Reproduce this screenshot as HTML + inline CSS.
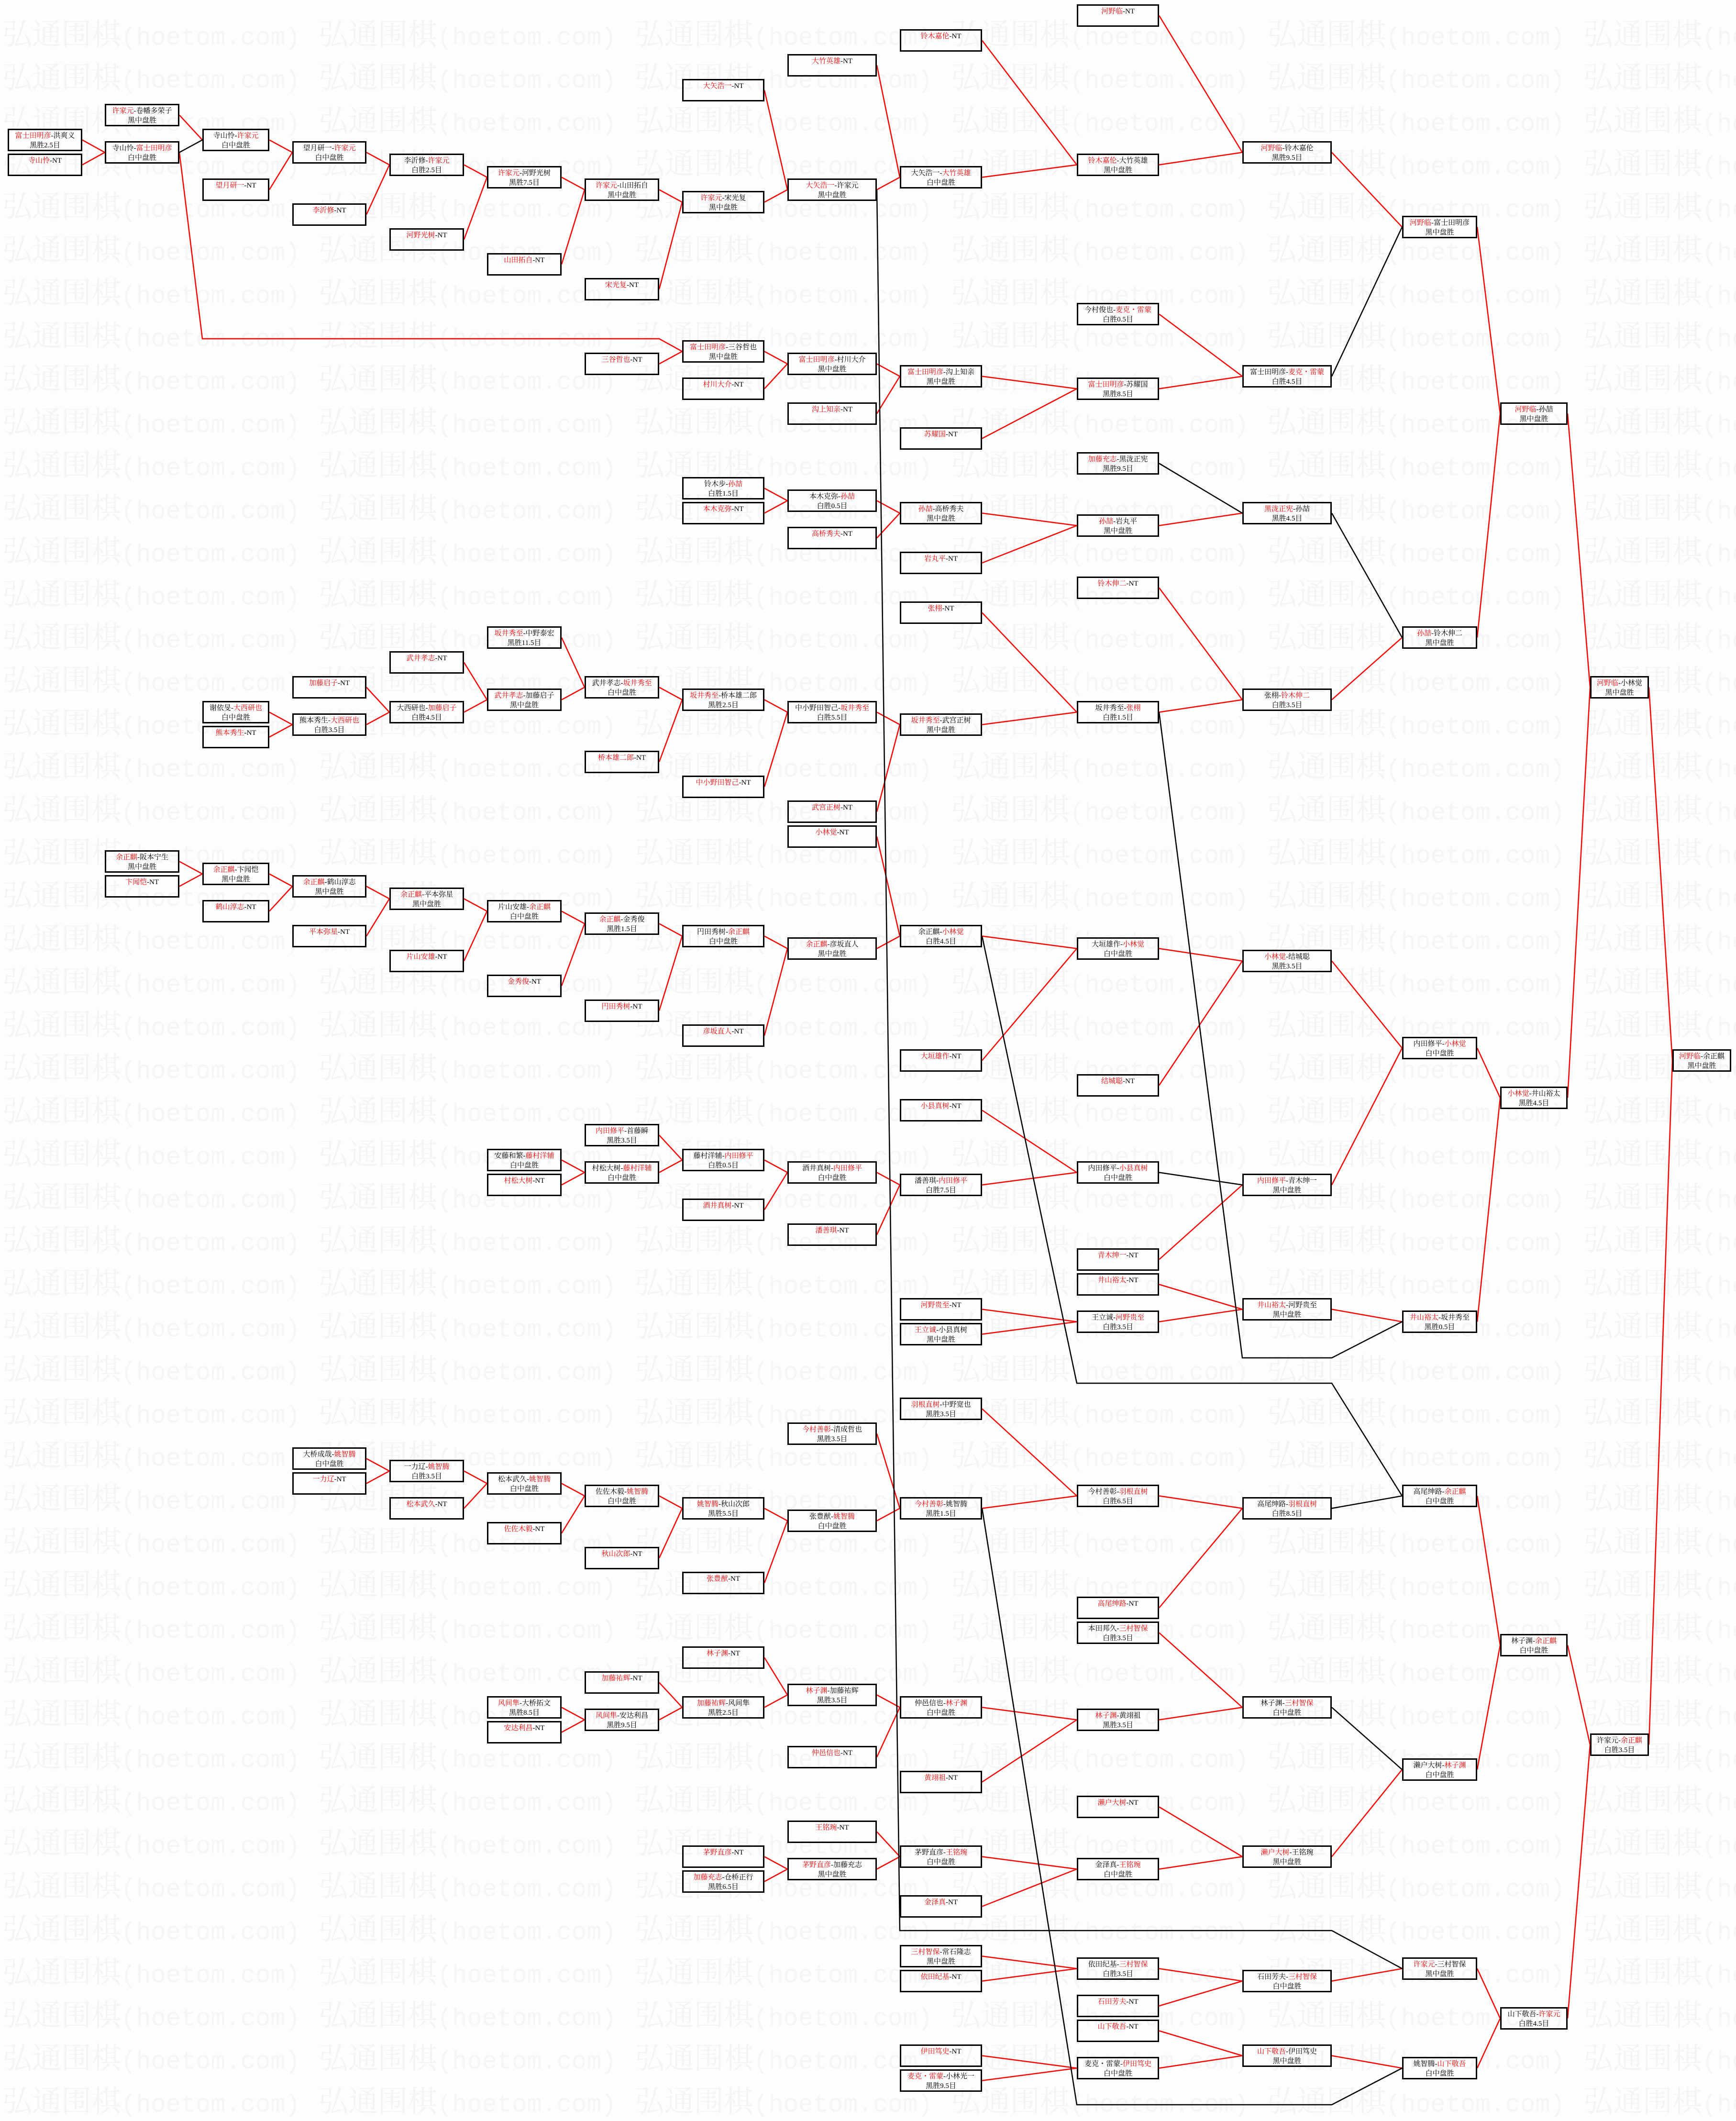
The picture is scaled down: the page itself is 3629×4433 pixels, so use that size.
<!DOCTYPE html>
<html><head><meta charset="utf-8">
<style>
html,body{margin:0;padding:0;background:#fdfdfd}
#w{position:relative;width:3629px;height:4433px;overflow:hidden;background:#fdfdfd}
svg{position:absolute;left:0;top:0}
.wm text{font-family:"Noto Serif CJK SC","Liberation Serif",serif;font-size:62px;fill:#f4f4f4}
.wm .l{font-family:"Liberation Mono",monospace;font-size:52px;fill:#f5f5f5}
.b{position:absolute;height:47px;box-sizing:border-box;border:3px solid #000;text-align:center;font:15px/20px "Liberation Serif","Noto Serif CJK SC",serif;padding-top:2px;white-space:nowrap;color:#000;overflow:visible}
.b i{font-style:normal;color:#f00}
.c1{left:16px;width:156px}.c2{left:219px;width:156px}.c3{left:423px;width:140px}.c4{left:611px;width:155px}
.c5{left:814px;width:156px}.c6{left:1018px;width:156px}.c7{left:1222px;width:156px}.c8{left:1426px;width:172px}
.c9{left:1646px;width:187px}.c10{left:1881px;width:172px}.c11{left:2251px;width:172px}.c12{left:2597px;width:187px}
.c13{left:2931px;width:157px}.c14{left:3136px;width:141px}.c15{left:3324px;width:123px}.c16{left:3496px;width:123px}
</style></head><body><div id="w">
<svg class="wm" width="3629" height="4433">
<text y="93"><tspan x="5">弘通围棋</tspan><tspan class="l">(hoetom.com)</tspan><tspan x="666">弘通围棋</tspan><tspan class="l">(hoetom.com)</tspan><tspan x="1327">弘通围棋</tspan><tspan class="l">(hoetom.com)</tspan><tspan x="1988">弘通围棋</tspan><tspan class="l">(hoetom.com)</tspan><tspan x="2649">弘通围棋</tspan><tspan class="l">(hoetom.com)</tspan><tspan x="3310">弘通围棋</tspan><tspan class="l">(hoetom.com)</tspan></text>
<text y="183"><tspan x="5">弘通围棋</tspan><tspan class="l">(hoetom.com)</tspan><tspan x="666">弘通围棋</tspan><tspan class="l">(hoetom.com)</tspan><tspan x="1327">弘通围棋</tspan><tspan class="l">(hoetom.com)</tspan><tspan x="1988">弘通围棋</tspan><tspan class="l">(hoetom.com)</tspan><tspan x="2649">弘通围棋</tspan><tspan class="l">(hoetom.com)</tspan><tspan x="3310">弘通围棋</tspan><tspan class="l">(hoetom.com)</tspan></text>
<text y="273"><tspan x="5">弘通围棋</tspan><tspan class="l">(hoetom.com)</tspan><tspan x="666">弘通围棋</tspan><tspan class="l">(hoetom.com)</tspan><tspan x="1327">弘通围棋</tspan><tspan class="l">(hoetom.com)</tspan><tspan x="1988">弘通围棋</tspan><tspan class="l">(hoetom.com)</tspan><tspan x="2649">弘通围棋</tspan><tspan class="l">(hoetom.com)</tspan><tspan x="3310">弘通围棋</tspan><tspan class="l">(hoetom.com)</tspan></text>
<text y="363"><tspan x="5">弘通围棋</tspan><tspan class="l">(hoetom.com)</tspan><tspan x="666">弘通围棋</tspan><tspan class="l">(hoetom.com)</tspan><tspan x="1327">弘通围棋</tspan><tspan class="l">(hoetom.com)</tspan><tspan x="1988">弘通围棋</tspan><tspan class="l">(hoetom.com)</tspan><tspan x="2649">弘通围棋</tspan><tspan class="l">(hoetom.com)</tspan><tspan x="3310">弘通围棋</tspan><tspan class="l">(hoetom.com)</tspan></text>
<text y="453"><tspan x="5">弘通围棋</tspan><tspan class="l">(hoetom.com)</tspan><tspan x="666">弘通围棋</tspan><tspan class="l">(hoetom.com)</tspan><tspan x="1327">弘通围棋</tspan><tspan class="l">(hoetom.com)</tspan><tspan x="1988">弘通围棋</tspan><tspan class="l">(hoetom.com)</tspan><tspan x="2649">弘通围棋</tspan><tspan class="l">(hoetom.com)</tspan><tspan x="3310">弘通围棋</tspan><tspan class="l">(hoetom.com)</tspan></text>
<text y="543"><tspan x="5">弘通围棋</tspan><tspan class="l">(hoetom.com)</tspan><tspan x="666">弘通围棋</tspan><tspan class="l">(hoetom.com)</tspan><tspan x="1327">弘通围棋</tspan><tspan class="l">(hoetom.com)</tspan><tspan x="1988">弘通围棋</tspan><tspan class="l">(hoetom.com)</tspan><tspan x="2649">弘通围棋</tspan><tspan class="l">(hoetom.com)</tspan><tspan x="3310">弘通围棋</tspan><tspan class="l">(hoetom.com)</tspan></text>
<text y="633"><tspan x="5">弘通围棋</tspan><tspan class="l">(hoetom.com)</tspan><tspan x="666">弘通围棋</tspan><tspan class="l">(hoetom.com)</tspan><tspan x="1327">弘通围棋</tspan><tspan class="l">(hoetom.com)</tspan><tspan x="1988">弘通围棋</tspan><tspan class="l">(hoetom.com)</tspan><tspan x="2649">弘通围棋</tspan><tspan class="l">(hoetom.com)</tspan><tspan x="3310">弘通围棋</tspan><tspan class="l">(hoetom.com)</tspan></text>
<text y="723"><tspan x="5">弘通围棋</tspan><tspan class="l">(hoetom.com)</tspan><tspan x="666">弘通围棋</tspan><tspan class="l">(hoetom.com)</tspan><tspan x="1327">弘通围棋</tspan><tspan class="l">(hoetom.com)</tspan><tspan x="1988">弘通围棋</tspan><tspan class="l">(hoetom.com)</tspan><tspan x="2649">弘通围棋</tspan><tspan class="l">(hoetom.com)</tspan><tspan x="3310">弘通围棋</tspan><tspan class="l">(hoetom.com)</tspan></text>
<text y="813"><tspan x="5">弘通围棋</tspan><tspan class="l">(hoetom.com)</tspan><tspan x="666">弘通围棋</tspan><tspan class="l">(hoetom.com)</tspan><tspan x="1327">弘通围棋</tspan><tspan class="l">(hoetom.com)</tspan><tspan x="1988">弘通围棋</tspan><tspan class="l">(hoetom.com)</tspan><tspan x="2649">弘通围棋</tspan><tspan class="l">(hoetom.com)</tspan><tspan x="3310">弘通围棋</tspan><tspan class="l">(hoetom.com)</tspan></text>
<text y="903"><tspan x="5">弘通围棋</tspan><tspan class="l">(hoetom.com)</tspan><tspan x="666">弘通围棋</tspan><tspan class="l">(hoetom.com)</tspan><tspan x="1327">弘通围棋</tspan><tspan class="l">(hoetom.com)</tspan><tspan x="1988">弘通围棋</tspan><tspan class="l">(hoetom.com)</tspan><tspan x="2649">弘通围棋</tspan><tspan class="l">(hoetom.com)</tspan><tspan x="3310">弘通围棋</tspan><tspan class="l">(hoetom.com)</tspan></text>
<text y="993"><tspan x="5">弘通围棋</tspan><tspan class="l">(hoetom.com)</tspan><tspan x="666">弘通围棋</tspan><tspan class="l">(hoetom.com)</tspan><tspan x="1327">弘通围棋</tspan><tspan class="l">(hoetom.com)</tspan><tspan x="1988">弘通围棋</tspan><tspan class="l">(hoetom.com)</tspan><tspan x="2649">弘通围棋</tspan><tspan class="l">(hoetom.com)</tspan><tspan x="3310">弘通围棋</tspan><tspan class="l">(hoetom.com)</tspan></text>
<text y="1083"><tspan x="5">弘通围棋</tspan><tspan class="l">(hoetom.com)</tspan><tspan x="666">弘通围棋</tspan><tspan class="l">(hoetom.com)</tspan><tspan x="1327">弘通围棋</tspan><tspan class="l">(hoetom.com)</tspan><tspan x="1988">弘通围棋</tspan><tspan class="l">(hoetom.com)</tspan><tspan x="2649">弘通围棋</tspan><tspan class="l">(hoetom.com)</tspan><tspan x="3310">弘通围棋</tspan><tspan class="l">(hoetom.com)</tspan></text>
<text y="1173"><tspan x="5">弘通围棋</tspan><tspan class="l">(hoetom.com)</tspan><tspan x="666">弘通围棋</tspan><tspan class="l">(hoetom.com)</tspan><tspan x="1327">弘通围棋</tspan><tspan class="l">(hoetom.com)</tspan><tspan x="1988">弘通围棋</tspan><tspan class="l">(hoetom.com)</tspan><tspan x="2649">弘通围棋</tspan><tspan class="l">(hoetom.com)</tspan><tspan x="3310">弘通围棋</tspan><tspan class="l">(hoetom.com)</tspan></text>
<text y="1263"><tspan x="5">弘通围棋</tspan><tspan class="l">(hoetom.com)</tspan><tspan x="666">弘通围棋</tspan><tspan class="l">(hoetom.com)</tspan><tspan x="1327">弘通围棋</tspan><tspan class="l">(hoetom.com)</tspan><tspan x="1988">弘通围棋</tspan><tspan class="l">(hoetom.com)</tspan><tspan x="2649">弘通围棋</tspan><tspan class="l">(hoetom.com)</tspan><tspan x="3310">弘通围棋</tspan><tspan class="l">(hoetom.com)</tspan></text>
<text y="1353"><tspan x="5">弘通围棋</tspan><tspan class="l">(hoetom.com)</tspan><tspan x="666">弘通围棋</tspan><tspan class="l">(hoetom.com)</tspan><tspan x="1327">弘通围棋</tspan><tspan class="l">(hoetom.com)</tspan><tspan x="1988">弘通围棋</tspan><tspan class="l">(hoetom.com)</tspan><tspan x="2649">弘通围棋</tspan><tspan class="l">(hoetom.com)</tspan><tspan x="3310">弘通围棋</tspan><tspan class="l">(hoetom.com)</tspan></text>
<text y="1443"><tspan x="5">弘通围棋</tspan><tspan class="l">(hoetom.com)</tspan><tspan x="666">弘通围棋</tspan><tspan class="l">(hoetom.com)</tspan><tspan x="1327">弘通围棋</tspan><tspan class="l">(hoetom.com)</tspan><tspan x="1988">弘通围棋</tspan><tspan class="l">(hoetom.com)</tspan><tspan x="2649">弘通围棋</tspan><tspan class="l">(hoetom.com)</tspan><tspan x="3310">弘通围棋</tspan><tspan class="l">(hoetom.com)</tspan></text>
<text y="1533"><tspan x="5">弘通围棋</tspan><tspan class="l">(hoetom.com)</tspan><tspan x="666">弘通围棋</tspan><tspan class="l">(hoetom.com)</tspan><tspan x="1327">弘通围棋</tspan><tspan class="l">(hoetom.com)</tspan><tspan x="1988">弘通围棋</tspan><tspan class="l">(hoetom.com)</tspan><tspan x="2649">弘通围棋</tspan><tspan class="l">(hoetom.com)</tspan><tspan x="3310">弘通围棋</tspan><tspan class="l">(hoetom.com)</tspan></text>
<text y="1623"><tspan x="5">弘通围棋</tspan><tspan class="l">(hoetom.com)</tspan><tspan x="666">弘通围棋</tspan><tspan class="l">(hoetom.com)</tspan><tspan x="1327">弘通围棋</tspan><tspan class="l">(hoetom.com)</tspan><tspan x="1988">弘通围棋</tspan><tspan class="l">(hoetom.com)</tspan><tspan x="2649">弘通围棋</tspan><tspan class="l">(hoetom.com)</tspan><tspan x="3310">弘通围棋</tspan><tspan class="l">(hoetom.com)</tspan></text>
<text y="1713"><tspan x="5">弘通围棋</tspan><tspan class="l">(hoetom.com)</tspan><tspan x="666">弘通围棋</tspan><tspan class="l">(hoetom.com)</tspan><tspan x="1327">弘通围棋</tspan><tspan class="l">(hoetom.com)</tspan><tspan x="1988">弘通围棋</tspan><tspan class="l">(hoetom.com)</tspan><tspan x="2649">弘通围棋</tspan><tspan class="l">(hoetom.com)</tspan><tspan x="3310">弘通围棋</tspan><tspan class="l">(hoetom.com)</tspan></text>
<text y="1803"><tspan x="5">弘通围棋</tspan><tspan class="l">(hoetom.com)</tspan><tspan x="666">弘通围棋</tspan><tspan class="l">(hoetom.com)</tspan><tspan x="1327">弘通围棋</tspan><tspan class="l">(hoetom.com)</tspan><tspan x="1988">弘通围棋</tspan><tspan class="l">(hoetom.com)</tspan><tspan x="2649">弘通围棋</tspan><tspan class="l">(hoetom.com)</tspan><tspan x="3310">弘通围棋</tspan><tspan class="l">(hoetom.com)</tspan></text>
<text y="1893"><tspan x="5">弘通围棋</tspan><tspan class="l">(hoetom.com)</tspan><tspan x="666">弘通围棋</tspan><tspan class="l">(hoetom.com)</tspan><tspan x="1327">弘通围棋</tspan><tspan class="l">(hoetom.com)</tspan><tspan x="1988">弘通围棋</tspan><tspan class="l">(hoetom.com)</tspan><tspan x="2649">弘通围棋</tspan><tspan class="l">(hoetom.com)</tspan><tspan x="3310">弘通围棋</tspan><tspan class="l">(hoetom.com)</tspan></text>
<text y="1983"><tspan x="5">弘通围棋</tspan><tspan class="l">(hoetom.com)</tspan><tspan x="666">弘通围棋</tspan><tspan class="l">(hoetom.com)</tspan><tspan x="1327">弘通围棋</tspan><tspan class="l">(hoetom.com)</tspan><tspan x="1988">弘通围棋</tspan><tspan class="l">(hoetom.com)</tspan><tspan x="2649">弘通围棋</tspan><tspan class="l">(hoetom.com)</tspan><tspan x="3310">弘通围棋</tspan><tspan class="l">(hoetom.com)</tspan></text>
<text y="2073"><tspan x="5">弘通围棋</tspan><tspan class="l">(hoetom.com)</tspan><tspan x="666">弘通围棋</tspan><tspan class="l">(hoetom.com)</tspan><tspan x="1327">弘通围棋</tspan><tspan class="l">(hoetom.com)</tspan><tspan x="1988">弘通围棋</tspan><tspan class="l">(hoetom.com)</tspan><tspan x="2649">弘通围棋</tspan><tspan class="l">(hoetom.com)</tspan><tspan x="3310">弘通围棋</tspan><tspan class="l">(hoetom.com)</tspan></text>
<text y="2163"><tspan x="5">弘通围棋</tspan><tspan class="l">(hoetom.com)</tspan><tspan x="666">弘通围棋</tspan><tspan class="l">(hoetom.com)</tspan><tspan x="1327">弘通围棋</tspan><tspan class="l">(hoetom.com)</tspan><tspan x="1988">弘通围棋</tspan><tspan class="l">(hoetom.com)</tspan><tspan x="2649">弘通围棋</tspan><tspan class="l">(hoetom.com)</tspan><tspan x="3310">弘通围棋</tspan><tspan class="l">(hoetom.com)</tspan></text>
<text y="2253"><tspan x="5">弘通围棋</tspan><tspan class="l">(hoetom.com)</tspan><tspan x="666">弘通围棋</tspan><tspan class="l">(hoetom.com)</tspan><tspan x="1327">弘通围棋</tspan><tspan class="l">(hoetom.com)</tspan><tspan x="1988">弘通围棋</tspan><tspan class="l">(hoetom.com)</tspan><tspan x="2649">弘通围棋</tspan><tspan class="l">(hoetom.com)</tspan><tspan x="3310">弘通围棋</tspan><tspan class="l">(hoetom.com)</tspan></text>
<text y="2343"><tspan x="5">弘通围棋</tspan><tspan class="l">(hoetom.com)</tspan><tspan x="666">弘通围棋</tspan><tspan class="l">(hoetom.com)</tspan><tspan x="1327">弘通围棋</tspan><tspan class="l">(hoetom.com)</tspan><tspan x="1988">弘通围棋</tspan><tspan class="l">(hoetom.com)</tspan><tspan x="2649">弘通围棋</tspan><tspan class="l">(hoetom.com)</tspan><tspan x="3310">弘通围棋</tspan><tspan class="l">(hoetom.com)</tspan></text>
<text y="2433"><tspan x="5">弘通围棋</tspan><tspan class="l">(hoetom.com)</tspan><tspan x="666">弘通围棋</tspan><tspan class="l">(hoetom.com)</tspan><tspan x="1327">弘通围棋</tspan><tspan class="l">(hoetom.com)</tspan><tspan x="1988">弘通围棋</tspan><tspan class="l">(hoetom.com)</tspan><tspan x="2649">弘通围棋</tspan><tspan class="l">(hoetom.com)</tspan><tspan x="3310">弘通围棋</tspan><tspan class="l">(hoetom.com)</tspan></text>
<text y="2523"><tspan x="5">弘通围棋</tspan><tspan class="l">(hoetom.com)</tspan><tspan x="666">弘通围棋</tspan><tspan class="l">(hoetom.com)</tspan><tspan x="1327">弘通围棋</tspan><tspan class="l">(hoetom.com)</tspan><tspan x="1988">弘通围棋</tspan><tspan class="l">(hoetom.com)</tspan><tspan x="2649">弘通围棋</tspan><tspan class="l">(hoetom.com)</tspan><tspan x="3310">弘通围棋</tspan><tspan class="l">(hoetom.com)</tspan></text>
<text y="2613"><tspan x="5">弘通围棋</tspan><tspan class="l">(hoetom.com)</tspan><tspan x="666">弘通围棋</tspan><tspan class="l">(hoetom.com)</tspan><tspan x="1327">弘通围棋</tspan><tspan class="l">(hoetom.com)</tspan><tspan x="1988">弘通围棋</tspan><tspan class="l">(hoetom.com)</tspan><tspan x="2649">弘通围棋</tspan><tspan class="l">(hoetom.com)</tspan><tspan x="3310">弘通围棋</tspan><tspan class="l">(hoetom.com)</tspan></text>
<text y="2703"><tspan x="5">弘通围棋</tspan><tspan class="l">(hoetom.com)</tspan><tspan x="666">弘通围棋</tspan><tspan class="l">(hoetom.com)</tspan><tspan x="1327">弘通围棋</tspan><tspan class="l">(hoetom.com)</tspan><tspan x="1988">弘通围棋</tspan><tspan class="l">(hoetom.com)</tspan><tspan x="2649">弘通围棋</tspan><tspan class="l">(hoetom.com)</tspan><tspan x="3310">弘通围棋</tspan><tspan class="l">(hoetom.com)</tspan></text>
<text y="2793"><tspan x="5">弘通围棋</tspan><tspan class="l">(hoetom.com)</tspan><tspan x="666">弘通围棋</tspan><tspan class="l">(hoetom.com)</tspan><tspan x="1327">弘通围棋</tspan><tspan class="l">(hoetom.com)</tspan><tspan x="1988">弘通围棋</tspan><tspan class="l">(hoetom.com)</tspan><tspan x="2649">弘通围棋</tspan><tspan class="l">(hoetom.com)</tspan><tspan x="3310">弘通围棋</tspan><tspan class="l">(hoetom.com)</tspan></text>
<text y="2883"><tspan x="5">弘通围棋</tspan><tspan class="l">(hoetom.com)</tspan><tspan x="666">弘通围棋</tspan><tspan class="l">(hoetom.com)</tspan><tspan x="1327">弘通围棋</tspan><tspan class="l">(hoetom.com)</tspan><tspan x="1988">弘通围棋</tspan><tspan class="l">(hoetom.com)</tspan><tspan x="2649">弘通围棋</tspan><tspan class="l">(hoetom.com)</tspan><tspan x="3310">弘通围棋</tspan><tspan class="l">(hoetom.com)</tspan></text>
<text y="2973"><tspan x="5">弘通围棋</tspan><tspan class="l">(hoetom.com)</tspan><tspan x="666">弘通围棋</tspan><tspan class="l">(hoetom.com)</tspan><tspan x="1327">弘通围棋</tspan><tspan class="l">(hoetom.com)</tspan><tspan x="1988">弘通围棋</tspan><tspan class="l">(hoetom.com)</tspan><tspan x="2649">弘通围棋</tspan><tspan class="l">(hoetom.com)</tspan><tspan x="3310">弘通围棋</tspan><tspan class="l">(hoetom.com)</tspan></text>
<text y="3063"><tspan x="5">弘通围棋</tspan><tspan class="l">(hoetom.com)</tspan><tspan x="666">弘通围棋</tspan><tspan class="l">(hoetom.com)</tspan><tspan x="1327">弘通围棋</tspan><tspan class="l">(hoetom.com)</tspan><tspan x="1988">弘通围棋</tspan><tspan class="l">(hoetom.com)</tspan><tspan x="2649">弘通围棋</tspan><tspan class="l">(hoetom.com)</tspan><tspan x="3310">弘通围棋</tspan><tspan class="l">(hoetom.com)</tspan></text>
<text y="3153"><tspan x="5">弘通围棋</tspan><tspan class="l">(hoetom.com)</tspan><tspan x="666">弘通围棋</tspan><tspan class="l">(hoetom.com)</tspan><tspan x="1327">弘通围棋</tspan><tspan class="l">(hoetom.com)</tspan><tspan x="1988">弘通围棋</tspan><tspan class="l">(hoetom.com)</tspan><tspan x="2649">弘通围棋</tspan><tspan class="l">(hoetom.com)</tspan><tspan x="3310">弘通围棋</tspan><tspan class="l">(hoetom.com)</tspan></text>
<text y="3243"><tspan x="5">弘通围棋</tspan><tspan class="l">(hoetom.com)</tspan><tspan x="666">弘通围棋</tspan><tspan class="l">(hoetom.com)</tspan><tspan x="1327">弘通围棋</tspan><tspan class="l">(hoetom.com)</tspan><tspan x="1988">弘通围棋</tspan><tspan class="l">(hoetom.com)</tspan><tspan x="2649">弘通围棋</tspan><tspan class="l">(hoetom.com)</tspan><tspan x="3310">弘通围棋</tspan><tspan class="l">(hoetom.com)</tspan></text>
<text y="3333"><tspan x="5">弘通围棋</tspan><tspan class="l">(hoetom.com)</tspan><tspan x="666">弘通围棋</tspan><tspan class="l">(hoetom.com)</tspan><tspan x="1327">弘通围棋</tspan><tspan class="l">(hoetom.com)</tspan><tspan x="1988">弘通围棋</tspan><tspan class="l">(hoetom.com)</tspan><tspan x="2649">弘通围棋</tspan><tspan class="l">(hoetom.com)</tspan><tspan x="3310">弘通围棋</tspan><tspan class="l">(hoetom.com)</tspan></text>
<text y="3423"><tspan x="5">弘通围棋</tspan><tspan class="l">(hoetom.com)</tspan><tspan x="666">弘通围棋</tspan><tspan class="l">(hoetom.com)</tspan><tspan x="1327">弘通围棋</tspan><tspan class="l">(hoetom.com)</tspan><tspan x="1988">弘通围棋</tspan><tspan class="l">(hoetom.com)</tspan><tspan x="2649">弘通围棋</tspan><tspan class="l">(hoetom.com)</tspan><tspan x="3310">弘通围棋</tspan><tspan class="l">(hoetom.com)</tspan></text>
<text y="3513"><tspan x="5">弘通围棋</tspan><tspan class="l">(hoetom.com)</tspan><tspan x="666">弘通围棋</tspan><tspan class="l">(hoetom.com)</tspan><tspan x="1327">弘通围棋</tspan><tspan class="l">(hoetom.com)</tspan><tspan x="1988">弘通围棋</tspan><tspan class="l">(hoetom.com)</tspan><tspan x="2649">弘通围棋</tspan><tspan class="l">(hoetom.com)</tspan><tspan x="3310">弘通围棋</tspan><tspan class="l">(hoetom.com)</tspan></text>
<text y="3603"><tspan x="5">弘通围棋</tspan><tspan class="l">(hoetom.com)</tspan><tspan x="666">弘通围棋</tspan><tspan class="l">(hoetom.com)</tspan><tspan x="1327">弘通围棋</tspan><tspan class="l">(hoetom.com)</tspan><tspan x="1988">弘通围棋</tspan><tspan class="l">(hoetom.com)</tspan><tspan x="2649">弘通围棋</tspan><tspan class="l">(hoetom.com)</tspan><tspan x="3310">弘通围棋</tspan><tspan class="l">(hoetom.com)</tspan></text>
<text y="3693"><tspan x="5">弘通围棋</tspan><tspan class="l">(hoetom.com)</tspan><tspan x="666">弘通围棋</tspan><tspan class="l">(hoetom.com)</tspan><tspan x="1327">弘通围棋</tspan><tspan class="l">(hoetom.com)</tspan><tspan x="1988">弘通围棋</tspan><tspan class="l">(hoetom.com)</tspan><tspan x="2649">弘通围棋</tspan><tspan class="l">(hoetom.com)</tspan><tspan x="3310">弘通围棋</tspan><tspan class="l">(hoetom.com)</tspan></text>
<text y="3783"><tspan x="5">弘通围棋</tspan><tspan class="l">(hoetom.com)</tspan><tspan x="666">弘通围棋</tspan><tspan class="l">(hoetom.com)</tspan><tspan x="1327">弘通围棋</tspan><tspan class="l">(hoetom.com)</tspan><tspan x="1988">弘通围棋</tspan><tspan class="l">(hoetom.com)</tspan><tspan x="2649">弘通围棋</tspan><tspan class="l">(hoetom.com)</tspan><tspan x="3310">弘通围棋</tspan><tspan class="l">(hoetom.com)</tspan></text>
<text y="3873"><tspan x="5">弘通围棋</tspan><tspan class="l">(hoetom.com)</tspan><tspan x="666">弘通围棋</tspan><tspan class="l">(hoetom.com)</tspan><tspan x="1327">弘通围棋</tspan><tspan class="l">(hoetom.com)</tspan><tspan x="1988">弘通围棋</tspan><tspan class="l">(hoetom.com)</tspan><tspan x="2649">弘通围棋</tspan><tspan class="l">(hoetom.com)</tspan><tspan x="3310">弘通围棋</tspan><tspan class="l">(hoetom.com)</tspan></text>
<text y="3963"><tspan x="5">弘通围棋</tspan><tspan class="l">(hoetom.com)</tspan><tspan x="666">弘通围棋</tspan><tspan class="l">(hoetom.com)</tspan><tspan x="1327">弘通围棋</tspan><tspan class="l">(hoetom.com)</tspan><tspan x="1988">弘通围棋</tspan><tspan class="l">(hoetom.com)</tspan><tspan x="2649">弘通围棋</tspan><tspan class="l">(hoetom.com)</tspan><tspan x="3310">弘通围棋</tspan><tspan class="l">(hoetom.com)</tspan></text>
<text y="4053"><tspan x="5">弘通围棋</tspan><tspan class="l">(hoetom.com)</tspan><tspan x="666">弘通围棋</tspan><tspan class="l">(hoetom.com)</tspan><tspan x="1327">弘通围棋</tspan><tspan class="l">(hoetom.com)</tspan><tspan x="1988">弘通围棋</tspan><tspan class="l">(hoetom.com)</tspan><tspan x="2649">弘通围棋</tspan><tspan class="l">(hoetom.com)</tspan><tspan x="3310">弘通围棋</tspan><tspan class="l">(hoetom.com)</tspan></text>
<text y="4143"><tspan x="5">弘通围棋</tspan><tspan class="l">(hoetom.com)</tspan><tspan x="666">弘通围棋</tspan><tspan class="l">(hoetom.com)</tspan><tspan x="1327">弘通围棋</tspan><tspan class="l">(hoetom.com)</tspan><tspan x="1988">弘通围棋</tspan><tspan class="l">(hoetom.com)</tspan><tspan x="2649">弘通围棋</tspan><tspan class="l">(hoetom.com)</tspan><tspan x="3310">弘通围棋</tspan><tspan class="l">(hoetom.com)</tspan></text>
<text y="4233"><tspan x="5">弘通围棋</tspan><tspan class="l">(hoetom.com)</tspan><tspan x="666">弘通围棋</tspan><tspan class="l">(hoetom.com)</tspan><tspan x="1327">弘通围棋</tspan><tspan class="l">(hoetom.com)</tspan><tspan x="1988">弘通围棋</tspan><tspan class="l">(hoetom.com)</tspan><tspan x="2649">弘通围棋</tspan><tspan class="l">(hoetom.com)</tspan><tspan x="3310">弘通围棋</tspan><tspan class="l">(hoetom.com)</tspan></text>
<text y="4323"><tspan x="5">弘通围棋</tspan><tspan class="l">(hoetom.com)</tspan><tspan x="666">弘通围棋</tspan><tspan class="l">(hoetom.com)</tspan><tspan x="1327">弘通围棋</tspan><tspan class="l">(hoetom.com)</tspan><tspan x="1988">弘通围棋</tspan><tspan class="l">(hoetom.com)</tspan><tspan x="2649">弘通围棋</tspan><tspan class="l">(hoetom.com)</tspan><tspan x="3310">弘通围棋</tspan><tspan class="l">(hoetom.com)</tspan></text>
<text y="4413"><tspan x="5">弘通围棋</tspan><tspan class="l">(hoetom.com)</tspan><tspan x="666">弘通围棋</tspan><tspan class="l">(hoetom.com)</tspan><tspan x="1327">弘通围棋</tspan><tspan class="l">(hoetom.com)</tspan><tspan x="1988">弘通围棋</tspan><tspan class="l">(hoetom.com)</tspan><tspan x="2649">弘通围棋</tspan><tspan class="l">(hoetom.com)</tspan><tspan x="3310">弘通围棋</tspan><tspan class="l">(hoetom.com)</tspan></text>
</svg>

<svg width="3629" height="4433" fill="none" stroke-width="2.5" stroke-linejoin="miter">
<path stroke="#f00" d="M172 292.5L219 318.5M172 344.5L219 318.5M375 240.5L423 292.5M563 292.5L611 318.5M563 396.5L611 318.5M766 318.5L814 344.5M766 448.5L814 344.5M970 344.5L1018 370.5M970 500.5L1018 370.5M1174 370.5L1222 396.5M1174 552.5L1222 396.5M1378 396.5L1426 422.5M1378 604.5L1426 422.5M1598 188.5L1646 396.5M1598 422.5L1646 396.5M1833 136.5L1881 370.5M1833 396.5L1881 370.5M2053 84.5L2251 344.5M2053 370.5L2251 344.5M2423 32.5L2597 318.5M2423 344.5L2597 318.5M2784 318.5L2931 474.5M3088 474.5L3136 864.5M2423 656.5L2597 786.5M2423 812.5L2597 786.5M2053 786.5L2251 812.5M2053 916.5L2251 812.5M1833 760.5L1881 786.5M1833 864.5L1881 786.5M1598 734.5L1646 760.5M1598 812.5L1646 760.5M1378 760.5L1426 734.5M375 318.5L423 708L1378 708L1426 734.5M1598 1020.5L1646 1046.5M1598 1072.5L1646 1046.5M1833 1046.5L1881 1072.5M1833 1124.5L1881 1072.5M2053 1072.5L2251 1098.5M2053 1176.5L2251 1098.5M2423 1098.5L2597 1072.5M2784 1462.5L2931 1332.5M3088 1332.5L3136 864.5M2423 1228.5L2597 1462.5M2423 1488.5L2597 1462.5M2053 1280.5L2251 1488.5M2053 1514.5L2251 1488.5M1833 1488.5L1881 1514.5M1833 1696.5L1881 1514.5M1598 1462.5L1646 1488.5M1598 1644.5L1646 1488.5M1378 1436.5L1426 1462.5M1378 1592.5L1426 1462.5M1174 1332.5L1222 1436.5M1174 1462.5L1222 1436.5M970 1384.5L1018 1462.5M970 1488.5L1018 1462.5M766 1436.5L814 1488.5M766 1514.5L814 1488.5M563 1488.5L611 1514.5M563 1540.5L611 1514.5M3277 864.5L3324 1436.5M3277 2294.5L3324 1436.5M3447 1436.5L3496 2216.5M3447 3646.5L3496 2216.5M375 1800.5L423 1826.5M375 1852.5L423 1826.5M563 1826.5L611 1852.5M563 1904.5L611 1852.5M766 1852.5L814 1878.5M766 1956.5L814 1878.5M970 1878.5L1018 1904.5M970 2008.5L1018 1904.5M1174 1904.5L1222 1930.5M1174 2060.5L1222 1930.5M1378 1930.5L1426 1956.5M1378 2112.5L1426 1956.5M1598 1956.5L1646 1982.5M1598 2164.5L1646 1982.5M1833 1748.5L1881 1956.5M1833 1982.5L1881 1956.5M2053 1956.5L2251 1982.5M2053 2216.5L2251 1982.5M2423 1982.5L2597 2008.5M2423 2268.5L2597 2008.5M2784 2008.5L2931 2190.5M2784 2476.5L2931 2190.5M3088 2190.5L3136 2294.5M3088 2762.5L3136 2294.5M1174 2424.5L1222 2450.5M1174 2476.5L1222 2450.5M1378 2372.5L1426 2424.5M1378 2450.5L1426 2424.5M1598 2424.5L1646 2450.5M1598 2528.5L1646 2450.5M1833 2450.5L1881 2476.5M1833 2580.5L1881 2476.5M2053 2320.5L2251 2450.5M2053 2476.5L2251 2450.5M2423 2632.5L2597 2476.5M2423 2684.5L2597 2736.5M2423 2762.5L2597 2736.5M2053 2736.5L2251 2762.5M2053 2788.5L2251 2762.5M2784 2736.5L2931 2762.5M766 3048.5L814 3074.5M766 3100.5L814 3074.5M970 3074.5L1018 3100.5M970 3152.5L1018 3100.5M1174 3100.5L1222 3126.5M1174 3204.5L1222 3126.5M1378 3126.5L1426 3152.5M1378 3256.5L1426 3152.5M1598 3152.5L1646 3178.5M1598 3308.5L1646 3178.5M1833 2996.5L1881 3152.5M1833 3178.5L1881 3152.5M2053 2944.5L2251 3126.5M2053 3152.5L2251 3126.5M2423 3126.5L2597 3152.5M2423 3360.5L2597 3152.5M3088 3126.5L3136 3438.5M3088 3698.5L3136 3438.5M3277 3438.5L3324 3646.5M3277 4218.5L3324 3646.5M1174 3568.5L1222 3594.5M1174 3620.5L1222 3594.5M1378 3516.5L1426 3568.5M1378 3594.5L1426 3568.5M1598 3464.5L1646 3542.5M1598 3568.5L1646 3542.5M1598 3880.5L1646 3906.5M1598 3932.5L1646 3906.5M1833 3542.5L1881 3568.5M1833 3672.5L1881 3568.5M1833 3828.5L1881 3880.5M1833 3906.5L1881 3880.5M2053 3568.5L2251 3594.5M2053 3724.5L2251 3594.5M2053 3880.5L2251 3906.5M2053 3984.5L2251 3906.5M2423 3412.5L2597 3568.5M2423 3594.5L2597 3568.5M2423 3776.5L2597 3880.5M2423 3906.5L2597 3880.5M2784 3880.5L2931 3698.5M2053 4088.5L2251 4114.5M2053 4140.5L2251 4114.5M2053 4296.5L2251 4322.5M2053 4348.5L2251 4322.5M2423 4114.5L2597 4140.5M2423 4192.5L2597 4140.5M2423 4244.5L2597 4296.5M2423 4322.5L2597 4296.5M2784 4140.5L2931 4114.5M2784 4296.5L2931 4322.5M3088 4114.5L3136 4218.5M3088 4322.5L3136 4218.5"/>
<path stroke="#000" d="M375 318.5L423 292.5M2784 786.5L2931 474.5M2423 968.5L2597 1072.5M2784 1072.5L2931 1332.5M2423 2450.5L2597 2476.5M2784 3152.5L2931 3126.5M2784 3568.5L2931 3698.5M1833 396.5L1881 4035L2784 4035L2931 4114.5M2053 1956.5L2251 2891L2784 2891L2931 3126.5M2423 1488.5L2597 2838L2784 2838L2931 2762.5M2053 3152.5L2251 4399L2784 4399L2931 4322.5"/>
</svg>

<div class="b c1" style="top:269px"><i>富士田明彦</i>-洪爽义<br>黑胜2.5目</div>
<div class="b c1" style="top:321px"><i>寺山怜</i>-NT</div>

<div class="b c2" style="top:217px"><i>许家元</i>-卷幡多荣子<br>黑中盘胜</div>
<div class="b c2" style="top:295px">寺山怜-<i>富士田明彦</i><br>白中盘胜</div>
<div class="b c2" style="top:1777px"><i>余正麒</i>-阪本宁生<br>黑中盘胜</div>
<div class="b c2" style="top:1829px"><i>卞闻恺</i>-NT</div>

<div class="b c3" style="top:269px">寺山怜-<i>许家元</i><br>白中盘胜</div>
<div class="b c3" style="top:373px"><i>望月研一</i>-NT</div>
<div class="b c3" style="top:1465px">谢依旻-<i>大西研也</i><br>白中盘胜</div>
<div class="b c3" style="top:1517px"><i>熊本秀生</i>-NT</div>
<div class="b c3" style="top:1803px"><i>余正麒</i>-卞闻恺<br>黑中盘胜</div>
<div class="b c3" style="top:1881px"><i>鹤山淳志</i>-NT</div>

<div class="b c4" style="top:295px">望月研一-<i>许家元</i><br>白中盘胜</div>
<div class="b c4" style="top:425px"><i>李沂修</i>-NT</div>
<div class="b c4" style="top:1413px"><i>加藤启子</i>-NT</div>
<div class="b c4" style="top:1491px">熊本秀生-<i>大西研也</i><br>白胜3.5目</div>
<div class="b c4" style="top:1829px"><i>余正麒</i>-鹤山淳志<br>黑中盘胜</div>
<div class="b c4" style="top:1933px"><i>平本弥星</i>-NT</div>
<div class="b c4" style="top:3025px">大桥成哉-<i>姚智腾</i><br>白中盘胜</div>
<div class="b c4" style="top:3077px"><i>一力辽</i>-NT</div>

<div class="b c5" style="top:321px">李沂修-<i>许家元</i><br>白胜2.5目</div>
<div class="b c5" style="top:477px"><i>河野光树</i>-NT</div>
<div class="b c5" style="top:1361px"><i>武井孝志</i>-NT</div>
<div class="b c5" style="top:1465px">大西研也-<i>加藤启子</i><br>白胜4.5目</div>
<div class="b c5" style="top:1855px"><i>余正麒</i>-平本弥星<br>黑中盘胜</div>
<div class="b c5" style="top:1985px"><i>片山安雄</i>-NT</div>
<div class="b c5" style="top:3051px">一力辽-<i>姚智腾</i><br>白胜3.5目</div>
<div class="b c5" style="top:3129px"><i>松本武久</i>-NT</div>

<div class="b c6" style="top:347px"><i>许家元</i>-河野光树<br>黑胜7.5目</div>
<div class="b c6" style="top:529px"><i>山田拓自</i>-NT</div>
<div class="b c6" style="top:1309px"><i>坂井秀至</i>-中野泰宏<br>黑胜11.5目</div>
<div class="b c6" style="top:1439px"><i>武井孝志</i>-加藤启子<br>黑中盘胜</div>
<div class="b c6" style="top:1881px">片山安雄-<i>余正麒</i><br>白中盘胜</div>
<div class="b c6" style="top:2037px"><i>金秀俊</i>-NT</div>
<div class="b c6" style="top:2401px">安藤和繁-<i>藤村洋辅</i><br>白中盘胜</div>
<div class="b c6" style="top:2453px"><i>村松大树</i>-NT</div>
<div class="b c6" style="top:3077px">松本武久-<i>姚智腾</i><br>白中盘胜</div>
<div class="b c6" style="top:3181px"><i>佐佐木毅</i>-NT</div>
<div class="b c6" style="top:3545px"><i>风间隼</i>-大桥拓文<br>黑胜8.5目</div>
<div class="b c6" style="top:3597px"><i>安达利昌</i>-NT</div>

<div class="b c7" style="top:373px"><i>许家元</i>-山田拓自<br>黑中盘胜</div>
<div class="b c7" style="top:581px"><i>宋光复</i>-NT</div>
<div class="b c7" style="top:737px"><i>三谷哲也</i>-NT</div>
<div class="b c7" style="top:1413px">武井孝志-<i>坂井秀至</i><br>白中盘胜</div>
<div class="b c7" style="top:1569px"><i>桥本雄二郎</i>-NT</div>
<div class="b c7" style="top:1907px"><i>余正麒</i>-金秀俊<br>黑胜1.5目</div>
<div class="b c7" style="top:2089px"><i>円田秀树</i>-NT</div>
<div class="b c7" style="top:2349px"><i>内田修平</i>-首藤瞬<br>黑胜3.5目</div>
<div class="b c7" style="top:2427px">村松大树-<i>藤村洋辅</i><br>白中盘胜</div>
<div class="b c7" style="top:3103px">佐佐木毅-<i>姚智腾</i><br>白中盘胜</div>
<div class="b c7" style="top:3233px"><i>秋山次郎</i>-NT</div>
<div class="b c7" style="top:3493px"><i>加藤祐辉</i>-NT</div>
<div class="b c7" style="top:3571px"><i>风间隼</i>-安达利昌<br>黑胜9.5目</div>

<div class="b c8" style="top:165px"><i>大矢浩一</i>-NT</div>
<div class="b c8" style="top:399px"><i>许家元</i>-宋光复<br>黑中盘胜</div>
<div class="b c8" style="top:711px"><i>富士田明彦</i>-三谷哲也<br>黑中盘胜</div>
<div class="b c8" style="top:789px"><i>村川大介</i>-NT</div>
<div class="b c8" style="top:997px">铃木步-<i>孙喆</i><br>白胜1.5目</div>
<div class="b c8" style="top:1049px"><i>本木克弥</i>-NT</div>
<div class="b c8" style="top:1439px"><i>坂井秀至</i>-桥本雄二郎<br>黑胜2.5目</div>
<div class="b c8" style="top:1621px"><i>中小野田智己</i>-NT</div>
<div class="b c8" style="top:1933px">円田秀树-<i>余正麒</i><br>白中盘胜</div>
<div class="b c8" style="top:2141px"><i>彦坂直人</i>-NT</div>
<div class="b c8" style="top:2401px">藤村洋辅-<i>内田修平</i><br>白胜0.5目</div>
<div class="b c8" style="top:2505px"><i>酒井真树</i>-NT</div>
<div class="b c8" style="top:3129px"><i>姚智腾</i>-秋山次郎<br>黑胜5.5目</div>
<div class="b c8" style="top:3285px"><i>张豊猷</i>-NT</div>
<div class="b c8" style="top:3441px"><i>林子渊</i>-NT</div>
<div class="b c8" style="top:3545px"><i>加藤祐辉</i>-风间隼<br>黑胜2.5目</div>
<div class="b c8" style="top:3857px"><i>茅野直彦</i>-NT</div>
<div class="b c8" style="top:3909px"><i>加藤充志</i>-仓桥正行<br>黑胜6.5目</div>

<div class="b c9" style="top:113px"><i>大竹英雄</i>-NT</div>
<div class="b c9" style="top:373px"><i>大矢浩一</i>-许家元<br>黑中盘胜</div>
<div class="b c9" style="top:737px"><i>富士田明彦</i>-村川大介<br>黑中盘胜</div>
<div class="b c9" style="top:841px"><i>沟上知亲</i>-NT</div>
<div class="b c9" style="top:1023px">本木克弥-<i>孙喆</i><br>白胜0.5目</div>
<div class="b c9" style="top:1101px"><i>高桥秀夫</i>-NT</div>
<div class="b c9" style="top:1465px">中小野田智己-<i>坂井秀至</i><br>白胜5.5目</div>
<div class="b c9" style="top:1673px"><i>武宫正树</i>-NT</div>
<div class="b c9" style="top:1725px"><i>小林觉</i>-NT</div>
<div class="b c9" style="top:1959px"><i>余正麒</i>-彦坂直人<br>黑中盘胜</div>
<div class="b c9" style="top:2427px">酒井真树-<i>内田修平</i><br>白中盘胜</div>
<div class="b c9" style="top:2557px"><i>潘善琪</i>-NT</div>
<div class="b c9" style="top:2973px"><i>今村善彰</i>-清成哲也<br>黑胜3.5目</div>
<div class="b c9" style="top:3155px">张豊猷-<i>姚智腾</i><br>白中盘胜</div>
<div class="b c9" style="top:3519px"><i>林子渊</i>-加藤祐辉<br>黑胜3.5目</div>
<div class="b c9" style="top:3649px"><i>仲邑信也</i>-NT</div>
<div class="b c9" style="top:3805px"><i>王铭琬</i>-NT</div>
<div class="b c9" style="top:3883px"><i>茅野直彦</i>-加藤充志<br>黑中盘胜</div>

<div class="b c10" style="top:61px"><i>铃木嘉伦</i>-NT</div>
<div class="b c10" style="top:347px">大矢浩一-<i>大竹英雄</i><br>白中盘胜</div>
<div class="b c10" style="top:763px"><i>富士田明彦</i>-沟上知亲<br>黑中盘胜</div>
<div class="b c10" style="top:893px"><i>苏耀国</i>-NT</div>
<div class="b c10" style="top:1049px"><i>孙喆</i>-高桥秀夫<br>黑中盘胜</div>
<div class="b c10" style="top:1153px"><i>岩丸平</i>-NT</div>
<div class="b c10" style="top:1257px"><i>张栩</i>-NT</div>
<div class="b c10" style="top:1491px"><i>坂井秀至</i>-武宫正树<br>黑中盘胜</div>
<div class="b c10" style="top:1933px">余正麒-<i>小林觉</i><br>白胜4.5目</div>
<div class="b c10" style="top:2193px"><i>大垣雄作</i>-NT</div>
<div class="b c10" style="top:2297px"><i>小县真树</i>-NT</div>
<div class="b c10" style="top:2453px">潘善琪-<i>内田修平</i><br>白胜7.5目</div>
<div class="b c10" style="top:2713px"><i>河野贵至</i>-NT</div>
<div class="b c10" style="top:2765px"><i>王立诚</i>-小县真树<br>黑中盘胜</div>
<div class="b c10" style="top:2921px"><i>羽根直树</i>-中野宽也<br>黑胜3.5目</div>
<div class="b c10" style="top:3129px"><i>今村善彰</i>-姚智腾<br>黑胜1.5目</div>
<div class="b c10" style="top:3545px">仲邑信也-<i>林子渊</i><br>白中盘胜</div>
<div class="b c10" style="top:3701px"><i>黄翊祖</i>-NT</div>
<div class="b c10" style="top:3857px">茅野直彦-<i>王铭琬</i><br>白中盘胜</div>
<div class="b c10" style="top:3961px"><i>金泽真</i>-NT</div>
<div class="b c10" style="top:4065px"><i>三村智保</i>-常石隆志<br>黑中盘胜</div>
<div class="b c10" style="top:4117px"><i>依田纪基</i>-NT</div>
<div class="b c10" style="top:4273px"><i>伊田笃史</i>-NT</div>
<div class="b c10" style="top:4325px"><i>麦克・雷蒙</i>-小林光一<br>黑胜9.5目</div>

<div class="b c11" style="top:9px"><i>河野临</i>-NT</div>
<div class="b c11" style="top:321px"><i>铃木嘉伦</i>-大竹英雄<br>黑中盘胜</div>
<div class="b c11" style="top:633px">今村俊也-<i>麦克・雷蒙</i><br>白胜0.5目</div>
<div class="b c11" style="top:789px"><i>富士田明彦</i>-苏耀国<br>黑胜8.5目</div>
<div class="b c11" style="top:945px"><i>加藤充志</i>-黑泷正宪<br>黑胜9.5目</div>
<div class="b c11" style="top:1075px"><i>孙喆</i>-岩丸平<br>黑中盘胜</div>
<div class="b c11" style="top:1205px"><i>铃木伸二</i>-NT</div>
<div class="b c11" style="top:1465px">坂井秀至-<i>张栩</i><br>白胜1.5目</div>
<div class="b c11" style="top:1959px">大垣雄作-<i>小林觉</i><br>白中盘胜</div>
<div class="b c11" style="top:2245px"><i>结城聪</i>-NT</div>
<div class="b c11" style="top:2427px">内田修平-<i>小县真树</i><br>白中盘胜</div>
<div class="b c11" style="top:2609px"><i>青木绅一</i>-NT</div>
<div class="b c11" style="top:2661px"><i>井山裕太</i>-NT</div>
<div class="b c11" style="top:2739px">王立诚-<i>河野贵至</i><br>白胜3.5目</div>
<div class="b c11" style="top:3103px">今村善彰-<i>羽根直树</i><br>白胜6.5目</div>
<div class="b c11" style="top:3337px"><i>高尾绅路</i>-NT</div>
<div class="b c11" style="top:3389px">本田邦久-<i>三村智保</i><br>白胜3.5目</div>
<div class="b c11" style="top:3571px"><i>林子渊</i>-黄翊祖<br>黑胜3.5目</div>
<div class="b c11" style="top:3753px"><i>濑户大树</i>-NT</div>
<div class="b c11" style="top:3883px">金泽真-<i>王铭琬</i><br>白中盘胜</div>
<div class="b c11" style="top:4091px">依田纪基-<i>三村智保</i><br>白胜3.5目</div>
<div class="b c11" style="top:4169px"><i>石田芳夫</i>-NT</div>
<div class="b c11" style="top:4221px"><i>山下敬吾</i>-NT</div>
<div class="b c11" style="top:4299px">麦克・雷蒙-<i>伊田笃史</i><br>白中盘胜</div>

<div class="b c12" style="top:295px"><i>河野临</i>-铃木嘉伦<br>黑胜9.5目</div>
<div class="b c12" style="top:763px">富士田明彦-<i>麦克・雷蒙</i><br>白胜4.5目</div>
<div class="b c12" style="top:1049px"><i>黑泷正宪</i>-孙喆<br>黑胜4.5目</div>
<div class="b c12" style="top:1439px">张栩-<i>铃木伸二</i><br>白胜3.5目</div>
<div class="b c12" style="top:1985px"><i>小林觉</i>-结城聪<br>黑胜3.5目</div>
<div class="b c12" style="top:2453px"><i>内田修平</i>-青木绅一<br>黑中盘胜</div>
<div class="b c12" style="top:2713px"><i>井山裕太</i>-河野贵至<br>黑中盘胜</div>
<div class="b c12" style="top:3129px">高尾绅路-<i>羽根直树</i><br>白胜8.5目</div>
<div class="b c12" style="top:3545px">林子渊-<i>三村智保</i><br>白中盘胜</div>
<div class="b c12" style="top:3857px"><i>濑户大树</i>-王铭琬<br>黑中盘胜</div>
<div class="b c12" style="top:4117px">石田芳夫-<i>三村智保</i><br>白中盘胜</div>
<div class="b c12" style="top:4273px"><i>山下敬吾</i>-伊田笃史<br>黑中盘胜</div>

<div class="b c13" style="top:451px"><i>河野临</i>-富士田明彦<br>黑中盘胜</div>
<div class="b c13" style="top:1309px"><i>孙喆</i>-铃木伸二<br>黑中盘胜</div>
<div class="b c13" style="top:2167px">内田修平-<i>小林觉</i><br>白中盘胜</div>
<div class="b c13" style="top:2739px"><i>井山裕太</i>-坂井秀至<br>黑胜0.5目</div>
<div class="b c13" style="top:3103px">高尾绅路-<i>余正麒</i><br>白中盘胜</div>
<div class="b c13" style="top:3675px">濑户大树-<i>林子渊</i><br>白中盘胜</div>
<div class="b c13" style="top:4091px"><i>许家元</i>-三村智保<br>黑中盘胜</div>
<div class="b c13" style="top:4299px">姚智腾-<i>山下敬吾</i><br>白中盘胜</div>

<div class="b c14" style="top:841px"><i>河野临</i>-孙喆<br>黑中盘胜</div>
<div class="b c14" style="top:2271px"><i>小林觉</i>-井山裕太<br>黑胜4.5目</div>
<div class="b c14" style="top:3415px">林子渊-<i>余正麒</i><br>白中盘胜</div>
<div class="b c14" style="top:4195px">山下敬吾-<i>许家元</i><br>白胜4.5目</div>

<div class="b c15" style="top:1413px"><i>河野临</i>-小林觉<br>黑中盘胜</div>
<div class="b c15" style="top:3623px">许家元-<i>余正麒</i><br>白胜3.5目</div>

<div class="b c16" style="top:2193px"><i>河野临</i>-余正麒<br>黑中盘胜</div>
</div></body></html>
